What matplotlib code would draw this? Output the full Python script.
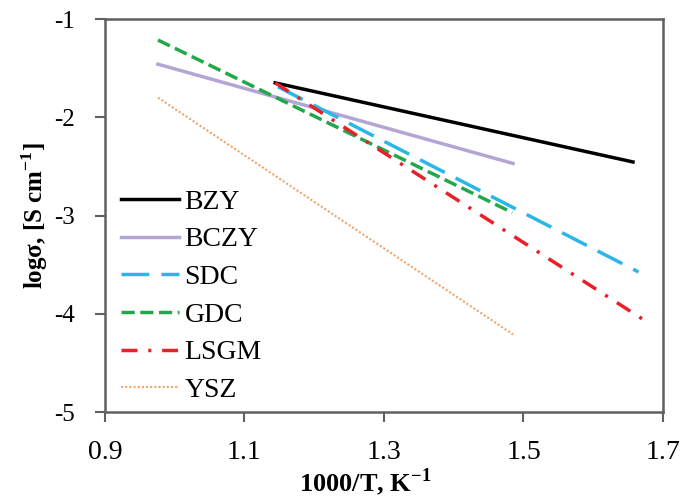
import matplotlib
matplotlib.use('Agg')
import matplotlib.pyplot as plt

plt.rcParams['font.family'] = 'Liberation Serif'
plt.rcParams['mathtext.fontset'] = 'custom'
plt.rcParams['mathtext.rm'] = 'Liberation Serif'
plt.rcParams['mathtext.bf'] = 'Liberation Serif:bold'

names = ['BZY', 'BCZY', 'SDC', 'GDC', 'LSGM', 'YSZ']
x_start = [1.144, 0.976, 1.148, 0.976, 1.144, 0.976]
x_end = [1.657, 1.485, 1.665, 1.484, 1.672, 1.485]
y_start = [-1.65, -1.46, -1.69, -1.214, -1.65, -1.80]
y_end = [-2.455, -2.47, -3.575, -2.97, -4.06, -4.21]

colors = ['black', '#b3a6d4', '#2ab7e8', '#22a84a', '#e8202a', '#f2a468']
styles = ['-', '-', (0, (8, 3.5)), (0, (3.8, 1.6)), (0, (4.6, 3.1, 0.9, 3.1)), (0, (1, 1))]
widths = [2.5, 2.5, 2.5, 2.5, 2.5, 1.5]

fig = plt.figure(figsize=(6.83, 4.99), dpi=100)
ax = fig.add_axes([0.1537, 0.1743, 0.817, 0.7876])

for i in range(len(names)):
    ax.plot([x_start[i], x_end[i]], [y_start[i], y_end[i]], color=colors[i],
            linestyle=styles[i], linewidth=widths[i], label=names[i])

ax.set_xlim(0.9, 1.7)
ax.set_ylim(-5, -1)
ax.set_xticks([0.9, 1.1, 1.3, 1.5, 1.7])
ax.set_yticks([-5, -4, -3, -2, -1])
ax.set_xticklabels(['0.9', '1.1', '1.3', '1.5', '1.7'])
ax.set_yticklabels(['-5', '-4', '-3', '-2', '-1'])
ax.tick_params(direction='out', length=7, width=1.5, color='#606060')
ax.tick_params(axis='x', labelsize=20, pad=13)
ax.tick_params(axis='y', labelsize=18, pad=15)
for s in ax.spines.values():
    s.set_color('#606060')
    s.set_linewidth(1.8)

ax.set_xlabel(r'1000/T, K$^{\mathbf{-1}}$', fontsize=19, fontweight='bold', labelpad=1, x=0.466)
ax.set_ylabel(r'logσ, [S cm$^{\mathbf{-1}}$]', fontsize=18, fontweight='bold', labelpad=3)

ax.legend(loc='lower left', bbox_to_anchor=(0.029, 0.023), frameon=False, fontsize=20,
          handlelength=2.1, handletextpad=0.18, labelspacing=0.44, borderaxespad=0,
          borderpad=0)

fig.savefig('out.png', dpi=100)
